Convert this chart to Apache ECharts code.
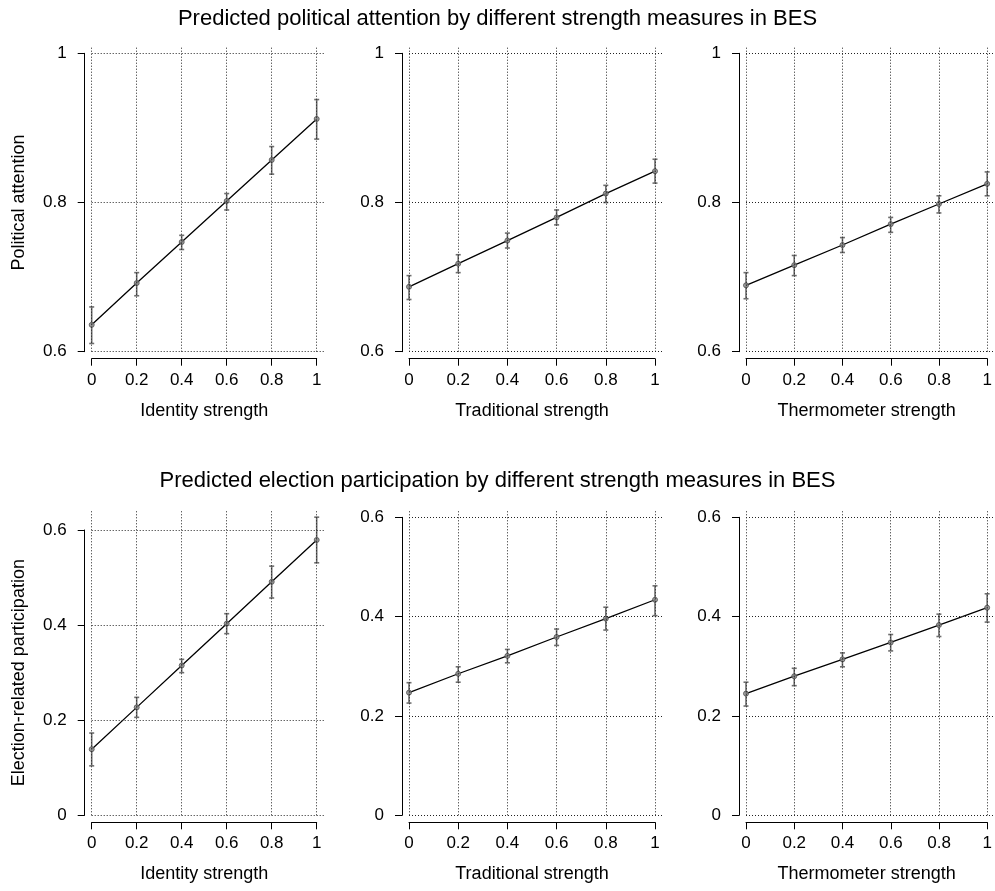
<!DOCTYPE html>
<html>
<head>
<meta charset="utf-8">
<title>Predicted political attention and participation</title>
<script src="https://cdn.jsdelivr.net/npm/echarts@6/dist/echarts.min.js"></script>
<style>
  html, body { margin: 0; padding: 0; background: #fff; }
  #chart { width: 995px; height: 891px; }
</style>
</head>
<body>
<div id="chart"></div>
<script>
// x values (strength, rescaled 0..1)
const xTicks = [0, 0.2, 0.4, 0.6, 0.8, 1];
const strengthNames = ['Identity strength', 'Traditional strength', 'Thermometer strength'];
const rowTitles = [
  'Predicted political attention by different strength measures in BES',
  'Predicted election participation by different strength measures in BES'
];
const yTitles = ['Political attention', 'Election-related participation'];
const attentionTicks = [0.6, 0.8, 1];
const participationTicks = [0, 0.2, 0.4, 0.6];

// predicted values with lower / upper bounds
const identityAttention = [0.636, 0.692, 0.747, 0.802, 0.857, 0.912];
const identityAttentionLo = [0.611, 0.675, 0.737, 0.790, 0.838, 0.885];
const identityAttentionHi = [0.660, 0.706, 0.756, 0.812, 0.875, 0.938];
const traditionalAttention = [0.687, 0.718, 0.749, 0.780, 0.812, 0.842];
const traditionalAttentionLo = [0.670, 0.706, 0.739, 0.770, 0.800, 0.826];
const traditionalAttentionHi = [0.702, 0.730, 0.759, 0.790, 0.823, 0.858];
const thermometerAttention = [0.689, 0.716, 0.743, 0.771, 0.798, 0.825];
const thermometerAttentionLo = [0.671, 0.702, 0.733, 0.760, 0.786, 0.809];
const thermometerAttentionHi = [0.706, 0.729, 0.753, 0.780, 0.809, 0.841];

const identityParticipation = [0.139, 0.227, 0.315, 0.403, 0.491, 0.579];
const identityParticipationLo = [0.104, 0.206, 0.300, 0.382, 0.457, 0.531];
const identityParticipationHi = [0.173, 0.248, 0.328, 0.424, 0.524, 0.627];
const traditionalParticipation = [0.247, 0.285, 0.321, 0.359, 0.396, 0.434];
const traditionalParticipationLo = [0.226, 0.268, 0.307, 0.342, 0.373, 0.402];
const traditionalParticipationHi = [0.267, 0.299, 0.334, 0.375, 0.419, 0.462];
const thermometerParticipation = [0.245, 0.280, 0.314, 0.348, 0.383, 0.418];
const thermometerParticipationLo = [0.220, 0.261, 0.299, 0.331, 0.360, 0.389];
const thermometerParticipationHi = [0.268, 0.296, 0.327, 0.364, 0.405, 0.446];

const panelData = [
  [
    [identityAttention, identityAttentionLo, identityAttentionHi],
    [traditionalAttention, traditionalAttentionLo, traditionalAttentionHi],
    [thermometerAttention, thermometerAttentionLo, thermometerAttentionHi]
  ],
  [
    [identityParticipation, identityParticipationLo, identityParticipationHi],
    [traditionalParticipation, traditionalParticipationLo, traditionalParticipationHi],
    [thermometerParticipation, thermometerParticipationLo, thermometerParticipationHi]
  ]
];

// layout in px: where x=0 / x=1 sit, and where the first / last y tick sit
const FONT = 'Liberation Sans, Arial, Helvetica, sans-serif';
const colPx = [[91.7, 316.7], [409, 655], [746, 991.7]];
const rowLayout = [
  { ticks: attentionTicks, top: 46, titleTop: 8, px: [[351.7, 53.3], [351.7, 53.3], [351.7, 53.3]] },
  { ticks: participationTicks, top: 510, titleTop: 470, px: [[815.3, 530], [815.3, 517.3], [815.3, 517.3]] }
];
const rightExt = 8;
const axisOffset = 7;

const grid = [], xAxis = [], yAxis = [], series = [], title = [];

rowLayout.forEach((row, r) => {
  title.push({
    text: rowTitles[r], left: 'center', top: row.titleTop, padding: 0,
    textStyle: { fontFamily: FONT, fontSize: 22, fontWeight: 'normal', color: '#000' }
  });
  colPx.forEach((cx, c) => {
    const [x0, x1] = cx;
    const [yBot, yTop] = row.px[c];
    const tMin = row.ticks[0], tMax = row.ticks[row.ticks.length - 1];

    // axis grid: spans exactly the tick range, axes pushed out like base R
    const ag = grid.length;
    grid.push({ left: x0, top: yTop, width: x1 - x0, height: yBot - yTop, containLabel: false });
    xAxis.push({
      gridIndex: ag, type: 'value', min: 0, max: 1, interval: 0.2, offset: axisOffset,
      axisLine: { show: true, onZero: false, lineStyle: { color: '#000', width: 1 } },
      axisTick: { show: true, length: 7, lineStyle: { color: '#000', width: 1 } },
      axisLabel: { color: '#000', fontSize: 17, fontFamily: FONT, margin: 13 },
      splitLine: { show: false },
      name: strengthNames[c], nameLocation: 'middle', nameGap: 43,
      nameTextStyle: { color: '#000', fontSize: 18, fontFamily: FONT }
    });
    yAxis.push({
      gridIndex: ag, type: 'value', min: tMin, max: tMax, interval: 0.2, offset: axisOffset,
      axisLine: { show: true, onZero: false, lineStyle: { color: '#000', width: 1 } },
      axisTick: { show: true, length: 7, lineStyle: { color: '#000', width: 1 } },
      axisLabel: { color: '#000', fontSize: 17, fontFamily: FONT, margin: 18 },
      splitLine: { show: false },
      name: c === 0 ? yTitles[r] : '', nameLocation: 'middle', nameGap: 57,
      nameTextStyle: { color: '#000', fontSize: 18, fontFamily: FONT }
    });

    // data grid: same scale, stretched to the top / right of the plot region
    const dg = grid.length;
    const yMaxExt = tMax + (yTop - row.top) / (yBot - yTop) * (tMax - tMin);
    grid.push({ left: x0, top: row.top, width: x1 - x0 + rightExt, height: yBot - row.top });
    xAxis.push({ gridIndex: dg, type: 'value', min: 0, max: 1 + rightExt / (x1 - x0), show: false, splitLine: { show: false } });
    yAxis.push({ gridIndex: dg, type: 'value', min: tMin, max: yMaxExt, show: false, splitLine: { show: false } });

    const [fit, lo, hi] = panelData[r][c];
    const gridLines = xTicks.map(v => ({ xAxis: v })).concat(row.ticks.map(v => ({ yAxis: v })));

    series.push({
      type: 'custom', xAxisIndex: dg, yAxisIndex: dg, z: 2, silent: true,
      data: xTicks.map((x, i) => [x, lo[i], hi[i]]),
      renderItem: (params, api) => {
        const pLo = api.coord([api.value(0), api.value(1)]);
        const pHi = api.coord([api.value(0), api.value(2)]);
        const cap = 2.5;
        const style = { stroke: '#6e6e6e', lineWidth: 1.6 };
        return {
          type: 'group',
          children: [
            { type: 'line', shape: { x1: pLo[0], y1: pLo[1], x2: pHi[0], y2: pHi[1] }, style },
            { type: 'line', shape: { x1: pLo[0] - cap, y1: pLo[1], x2: pLo[0] + cap, y2: pLo[1] }, style },
            { type: 'line', shape: { x1: pHi[0] - cap, y1: pHi[1], x2: pHi[0] + cap, y2: pHi[1] }, style }
          ]
        };
      }
    });
    series.push({
      type: 'line', xAxisIndex: dg, yAxisIndex: dg, z: 3, silent: true,
      data: xTicks.map((x, i) => [x, fit[i]]),
      showSymbol: false, symbol: 'none',
      lineStyle: { color: '#000', width: 1.3 },
      markLine: {
        silent: true, symbol: 'none', label: { show: false },
        lineStyle: { color: '#222', width: 1, type: [1, 2] },
        data: gridLines
      }
    });
    series.push({
      type: 'scatter', xAxisIndex: dg, yAxisIndex: dg, z: 4, silent: true,
      data: xTicks.map((x, i) => [x, fit[i]]),
      symbol: 'circle', symbolSize: 5,
      itemStyle: { color: '#8a8a8a', borderColor: '#4d4d4d', borderWidth: 1 }
    });
  });
});

const myChart = echarts.init(document.getElementById('chart'), null, { renderer: 'canvas' });
myChart.setOption({
  animation: false,
  backgroundColor: '#fff',
  title, grid, xAxis, yAxis, series
});
window.addEventListener('resize', () => myChart.resize());
</script>
</body>
</html>
